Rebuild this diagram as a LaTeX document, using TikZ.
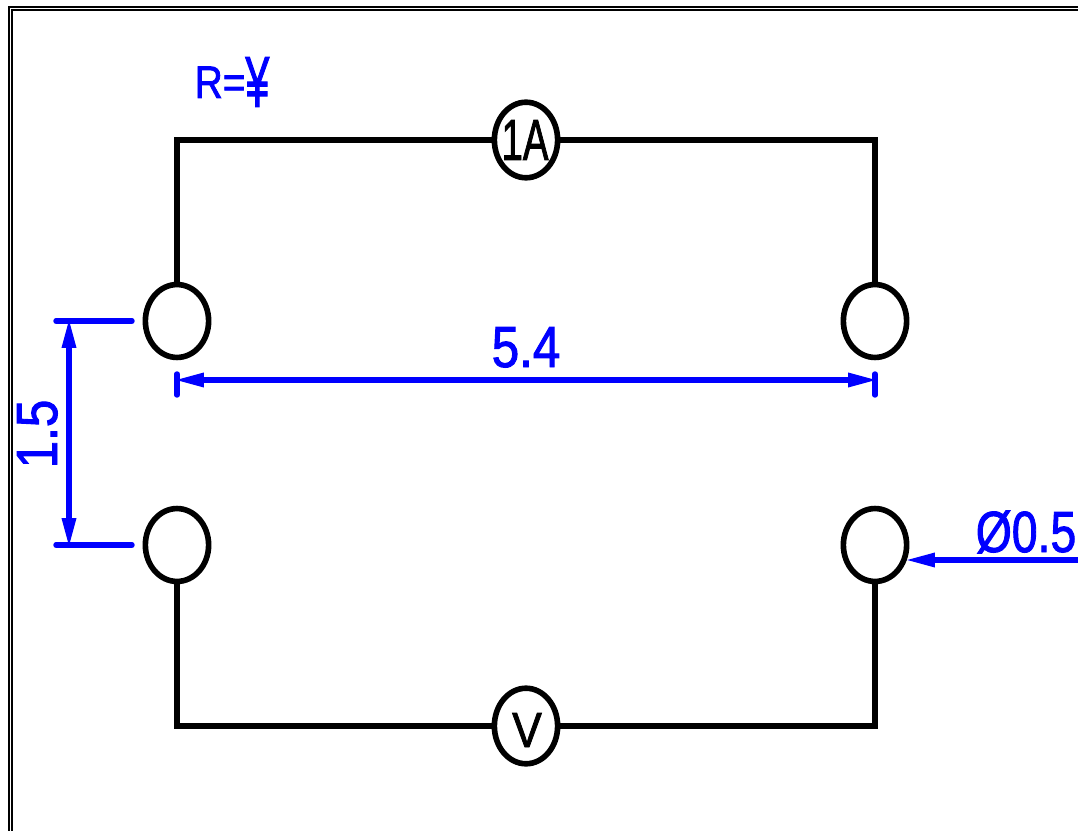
\documentclass[tikz,border=0pt]{standalone}
\usepackage{fontspec}
\usetikzlibrary{arrows.meta, shapes.geometric}
\newfontfamily\CadFont[FakeStretch=0.85, FakeBold=1.6]{Liberation Sans}
\newcommand*{\WireWidth}{3.2pt}
\newcommand*{\DimWidth}{3.1pt}
\newcommand*{\CadSize}{\fontsize{33}{33}\selectfont\CadFont}
\tikzset{
    wire/.style={line width=\WireWidth},
    framing/.style={line width=1.2pt},
    terminal/.style={draw, ellipse, line width=\WireWidth, inner sep=0pt,
        minimum width=36pt, minimum height=41.5pt},
    meter/.style={terminal, minimum height=43pt},
    dimline/.style={blue, line width=\DimWidth, line cap=round},
    dimarrow/.style={dimline, line cap=butt, >={Triangle[length=17pt, width=7.5pt]}},
    dimtext/.style={blue, anchor=base, inner sep=0pt, font=\CadSize},
    metertext/.style={black, anchor=base, inner sep=0pt, font=\CadSize},
}
\begin{document}
\begin{tikzpicture}[x=0.02cm, y=-0.02cm]
    \useasboundingbox (0,0) rectangle (1078,831);

    % double border, open to the right and below
    \draw[framing] (1078,7) -- (9,7) -- (9,831);
    \draw[framing] (1078,10) -- (12,10) -- (12,831);

    % terminals and meters
    \node[terminal] (topleft) at (177,321) {};
    \node[terminal] (topright) at (875,321) {};
    \node[terminal] (bottomleft) at (177,545) {};
    \node[terminal] (bottomright) at (875,545) {};
    \node[meter] (ammeter) at (526,140) {};
    \node[meter] (voltmeter) at (526,726) {};
    \node[metertext] (ammeterlabel) at (525,160) {\scalebox{0.78}[1]{1A}};
    \node[metertext] (voltmeterlabel) at (527,747) {\scalebox{0.9}[0.85]{V}};

    % wires
    \draw[wire] (topleft.north) |- (ammeter.west);
    \draw[wire] (ammeter.east) -| (topright.north);
    \draw[wire] (bottomleft.south) |- (voltmeter.west);
    \draw[wire] (voltmeter.east) -| (bottomright.south);

    % width dimension
    \coordinate (widthleft) at (174,380);
    \coordinate (widthright) at (878,380);
    \coordinate (tickleftup) at (177,374);
    \coordinate (tickleftdown) at (177,395);
    \coordinate (tickrightup) at (875,374);
    \coordinate (tickrightdown) at (875,395);
    \draw[dimarrow, <->] (widthleft) -- (widthright);
    \draw[dimline] (tickleftup) -- (tickleftdown);
    \draw[dimline] (tickrightup) -- (tickrightdown);
    \node[dimtext] (widthlabel) at (526,367) {5.4};

    % height dimension
    \coordinate (extupstart) at (56,321);
    \coordinate (extupend) at (132,321);
    \coordinate (extdownstart) at (56,545);
    \coordinate (extdownend) at (132,545);
    \coordinate (heightup) at (69,318);
    \coordinate (heightdown) at (69,548);
    \draw[dimline] (extupstart) -- (extupend);
    \draw[dimline] (extdownstart) -- (extdownend);
    \draw[dimarrow, <->] (heightup) -- (heightdown);
    \node[dimtext, rotate=90] (heightlabel) at (57,434) {1.5};

    % diameter leader
    \coordinate (leaderstart) at (1078,560);
    \coordinate (leaderend) at (905,560);
    \draw[dimarrow, ->] (leaderstart) -- (leaderend);
    \node[dimtext] (diameterlabel) at (1026,552) {\scalebox{0.94}[1]{Ø0.5}};

    \node[dimtext] (resistancelabel) at (232,98) {\fontsize{26}{26}\selectfont R={\raisebox{-5pt}{\fontsize{41}{41}\selectfont\scalebox{0.7}[1]{¥}}}};
\end{tikzpicture}
\end{document}
